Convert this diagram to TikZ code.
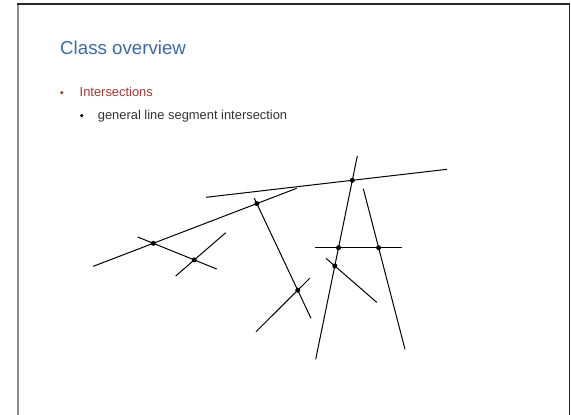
\documentclass[tikz,border=0pt]{standalone}
\usepackage{fontspec}
\setmainfont{Liberation Sans}
\definecolor{titleblue}{HTML}{3B6BA3}
\definecolor{itemred}{HTML}{A03A32}
\definecolor{textgray}{HTML}{333333}
\begin{document}
\begin{tikzpicture}[x=1pt,y=-1pt,
  seg/.style={line width=1pt, black},
  dotpt/.style={circle, fill=black, inner sep=0pt, minimum size=5pt},
  bul/.style={circle, inner sep=0pt, minimum size=3.4pt},
  txt/.style={anchor=base west, inner sep=0pt}]
\useasboundingbox (0,0) rectangle (571,415);
% frame
\draw[line width=2pt, gray!90] (17.5,4) -- (17.5,415);
\draw[line width=1.5pt, black!85] (17,4) -- (569.5,4) -- (569.5,415);
% texts
\node[txt, font=\fontsize{18.7}{22}\selectfont, text=titleblue] (title) at (60,54) {Class overview};
\node[bul, fill=itemred] (bulA) at (61.8,92.6) {};
\node[txt, font=\fontsize{12.9}{15}\selectfont, text=itemred] (itemA) at (79.5,96.6) {Intersections};
\node[bul, fill=black] (bulB) at (81.7,115.6) {};
\node[txt, font=\fontsize{12.9}{15}\selectfont, text=textgray] (itemB) at (97.7,119.4) {general line segment intersection};
% segment end points
\coordinate (a1) at (93.3,266.3);  \coordinate (a2) at (296.7,188.3);
\coordinate (b1) at (137.7,237);   \coordinate (b2) at (216.7,269);
\coordinate (c1) at (175.7,276);   \coordinate (c2) at (225.7,232.7);
\coordinate (d1) at (206,197.3);   \coordinate (d2) at (447,169.3);
\coordinate (e1) at (357.3,156);   \coordinate (e2) at (315.7,359.3);
\coordinate (f1) at (363.3,188.7); \coordinate (f2) at (405,349.3);
\coordinate (h1) at (315,247.7);   \coordinate (h2) at (402,247.7);
\coordinate (g1) at (326,258.3);   \coordinate (g2) at (376.7,302.3);
\coordinate (j1) at (254.3,198.3); \coordinate (j2) at (311,318.3);
\coordinate (k1) at (256,331.7);   \coordinate (k2) at (309.7,278.3);
\foreach \s in {a,b,c,d,e,f,h,g,j,k}{\draw[seg] (\s1) -- (\s2);}
% intersection points
\path (intersection of a1--a2 and b1--b2) node[dotpt] (pab) {};
\path (intersection of b1--b2 and c1--c2) node[dotpt] (pbc) {};
\path (intersection of a1--a2 and j1--j2) node[dotpt] (paj) {};
\path (intersection of d1--d2 and e1--e2) node[dotpt] (pde) {};
\path (intersection of e1--e2 and h1--h2) node[dotpt] (peh) {};
\path (intersection of f1--f2 and h1--h2) node[dotpt] (pfh) {};
\path (intersection of e1--e2 and g1--g2) node[dotpt] (peg) {};
\path (intersection of j1--j2 and k1--k2) node[dotpt] (pjk) {};
\end{tikzpicture}
\end{document}
